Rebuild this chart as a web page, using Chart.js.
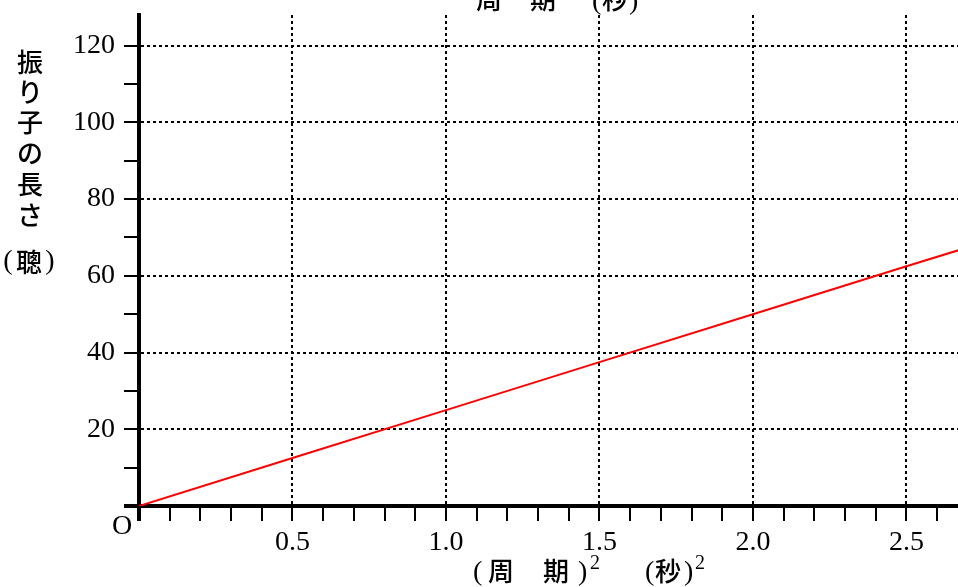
<!DOCTYPE html>
<html>
<head>
<meta charset="utf-8">
<script src="https://cdn.jsdelivr.net/npm/chart.js@4"></script>
<style>
  html, body { margin:0; padding:0; background:#fff; }
  #wrap { width:958px; height:587px; position:relative; }
</style>
</head>
<body>
<div id="wrap"><canvas id="c"></canvas></div>
<script>
// ---- data ----
const periodSq = [0, 0.5, 1.0, 1.5, 2.0, 2.5, 2.67];          // (周期)^2 [s^2]
const pendulumLen = [0, 12.5, 25, 37.5, 50, 62.5, 66.7];       // 振り子の長さ
const xTickLabels = ['0.5', '1.0', '1.5', '2.0', '2.5'];
const yTickLabels = ['20', '40', '60', '80', '100', '120'];
const X_MAX = 2.668, Y_MAX = 128;

const SERIF = '"Liberation Serif", "DejaVu Serif", serif';
const JP = '"Noto Sans CJK JP", "Noto Sans", sans-serif';

const isMajorX = v => Math.round(v * 10) % 5 === 0;
const isMajorY = v => Math.round(v) % 20 === 0;

// extra text: vertical y title, origin, axis titles
const textPlugin = {
  id: 'texts',
  afterDraw(chart) {
    const ctx = chart.ctx;
    ctx.save();
    ctx.fillStyle = '#000';
    // vertical y label
    ctx.font = '500 26px ' + JP;
    ctx.textAlign = 'center'; ctx.textBaseline = 'middle';
    const ys = [62, 92, 122, 153, 184, 215];
    '振り子の長さ'.split('').forEach((ch, i) => ctx.fillText(ch, 30, ys[i]));
    ctx.font = '28px ' + SERIF; ctx.fillText('(', 8, 262); ctx.fillText(')', 50, 262);
    ctx.font = '500 26px ' + JP; ctx.fillText('聰', 29, 262);
    // origin
    ctx.font = '28px ' + SERIF; ctx.fillText('O', 122, 527);
    // x title
    ctx.textAlign = 'left'; ctx.textBaseline = 'alphabetic';
    ctx.font = '28px ' + SERIF; ctx.fillText('(', 473, 580);
    ctx.font = '500 26px ' + JP; ctx.fillText('周', 488, 581); ctx.fillText('期', 543, 581);
    ctx.font = '28px ' + SERIF; ctx.fillText(')', 578, 580);
    ctx.font = '20px ' + SERIF; ctx.fillText('2', 590, 569);
    ctx.font = '28px ' + SERIF; ctx.fillText('(', 645, 580);
    ctx.font = '500 26px ' + JP; ctx.fillText('秒', 655, 581);
    ctx.font = '28px ' + SERIF; ctx.fillText(')', 684, 580);
    ctx.font = '20px ' + SERIF; ctx.fillText('2', 695, 569);
    // top title (cut off by the frame)
    ctx.font = '500 26px ' + JP; ctx.fillText('周', 476, 9); ctx.fillText('期', 530, 9);
    ctx.font = '28px ' + SERIF; ctx.fillText('(', 592, 9); ctx.fillText(')', 629, 9);
    ctx.font = '500 26px ' + JP; ctx.fillText('秒', 602, 9);
    ctx.restore();
  }
};

new Chart(document.getElementById('c'), {
  type: 'scatter',
  data: { datasets: [{
    data: periodSq.map((x, i) => ({ x, y: pendulumLen[i] })),
    showLine: true, borderColor: '#ff0000', borderWidth: 2, pointRadius: 0, fill: false
  }]},
  options: {
    responsive: true, maintainAspectRatio: false, animation: false,
    layout: { padding: { top: 15, left: 0, right: 0, bottom: 0 } },
    plugins: { legend: { display: false }, tooltip: { enabled: false } },
    scales: {
      x: {
        type: 'linear', min: 0, max: X_MAX,
        afterBuildTicks: s => { const t = []; for (let i = 0; i <= 26; i++) t.push({ value: i / 10 }); s.ticks = t; },
        afterFit: s => { s.height = 81; s.paddingLeft = 0; s.paddingRight = 0; },
        border: { display: true, color: '#000', width: 4, dash: [3, 3] },
        grid: {
          color: c => (c.tick && isMajorX(c.tick.value) && c.tick.value > 0) ? '#000' : 'rgba(0,0,0,0)',
          lineWidth: 2, tickColor: '#000',
          tickWidth: c => (c.tick && c.tick.value === 0) ? 4 : 2, tickLength: 15
        },
        ticks: {
          autoSkip: false, maxRotation: 0, padding: 5, color: '#000',
          font: { family: SERIF, size: 28 },
          callback: v => (isMajorX(v) && v > 0) ? xTickLabels[Math.round(v * 2) - 1] : ''
        }
      },
      y: {
        type: 'linear', min: 0, max: Y_MAX,
        afterBuildTicks: s => { const t = []; for (let v = 0; v <= 120; v += 10) t.push({ value: v }); s.ticks = t; },
        afterFit: s => { s.width = 139; s.paddingTop = 0; s.paddingBottom = 0; },
        border: { display: true, color: '#000', width: 4, dash: [3, 3] },
        grid: {
          color: c => (c.tick && isMajorY(c.tick.value) && c.tick.value > 0) ? '#000' : 'rgba(0,0,0,0)',
          lineWidth: 2, tickColor: '#000',
          tickWidth: c => (c.tick && c.tick.value === 0) ? 4 : 2, tickLength: 15
        },
        ticks: {
          autoSkip: false, padding: 9, color: '#000',
          font: { family: SERIF, size: 28 },
          callback: v => (isMajorY(v) && v > 0) ? yTickLabels[v / 20 - 1] : ''
        }
      }
    }
  },
  plugins: [textPlugin]
});
</script>
</body>
</html>
